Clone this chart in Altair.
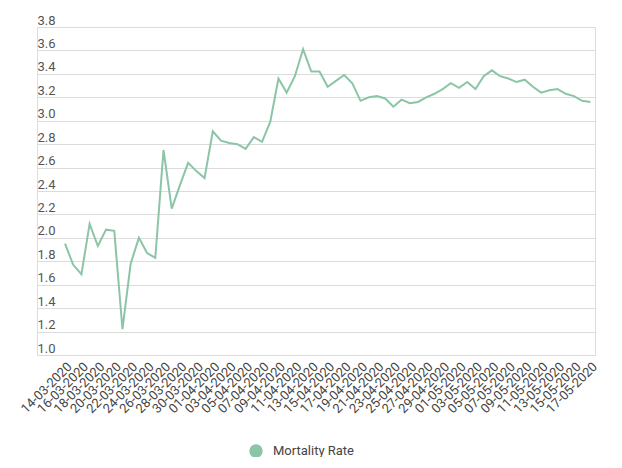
import altair as alt
import pandas as pd

# ---- data ----
start_date = "2020-03-14"
end_date = "2020-05-17"
series_name = "Mortality Rate"
mortality = [
    1.95, 1.77, 1.69, 2.12, 1.93, 2.07, 2.06, 1.22, 1.78, 2.00,
    1.87, 1.83, 2.75, 2.25, 2.45, 2.64, 2.57, 2.51, 2.91, 2.83,
    2.81, 2.80, 2.76, 2.86, 2.82, 2.99, 3.36, 3.24, 3.38, 3.61,
    3.42, 3.42, 3.29, 3.34, 3.39, 3.32, 3.17, 3.20, 3.21, 3.19,
    3.12, 3.18, 3.15, 3.16, 3.20, 3.23, 3.27, 3.32, 3.28, 3.33,
    3.27, 3.38, 3.43, 3.38, 3.36, 3.33, 3.35, 3.29, 3.24, 3.26,
    3.27, 3.23, 3.21, 3.17, 3.16,
]
y_ticks = [1.0, 1.2, 1.4, 1.6, 1.8, 2.0, 2.2, 2.4, 2.6, 2.8, 3.0, 3.2, 3.4, 3.6, 3.8]

dates = pd.date_range(start_date, end_date, freq="D")
df = pd.DataFrame({
    "date": dates.strftime("%Y-%m-%d"),
    "value": mortality,
    "series": series_name,
})

LINE = "#8bc5a6"
FONT = "Roboto"

tick_dates = [
    alt.DateTime(year=d.year, month=d.month, date=d.day, utc=True) for d in dates[::2]
]

chart = (
    alt.Chart(df)
    .mark_line(strokeWidth=2, color=LINE)
    .encode(
        x=alt.X(
            "date:T",
            scale=alt.Scale(
                type="utc",
                domain=[
                    alt.DateTime(year=2020, month=3, date=10, hours=14, minutes=9, utc=True),
                    alt.DateTime(year=2020, month=5, date=17, hours=13, minutes=26, utc=True),
                ],
            ),
            axis=alt.Axis(
                title=None,
                values=tick_dates,
                format="%d-%m-%Y",
                labelAngle=315,
                labelPadding=5,
                labelFontSize=13,
                labelColor="#444444",
                labelFont=FONT,
                ticks=False,
                tickSize=0,
                domain=False,
                grid=False,
                labelOverlap=False,
                labelFlush=False,
            ),
        ),
        y=alt.Y(
            "value:Q",
            scale=alt.Scale(domain=[1.0, 3.8], nice=False, zero=False),
            axis=alt.Axis(
                title=None,
                values=y_ticks,
                format=".1f",
                labelAlign="left",
                labelBaseline="alphabetic",
                labelOffset=-3,
                labelPadding=0,
                labelFontSize=13,
                labelColor="#555555",
                labelFont=FONT,
                ticks=False,
                tickSize=0,
                domain=False,
                grid=True,
                gridColor="#dcdcdc",
                gridWidth=1,
                labelOverlap=False,
                labelFlush=False,
            ),
        ),
        color=alt.Color(
            "series:N",
            scale=alt.Scale(range=[LINE]),
            legend=alt.Legend(
                title=None,
                orient="none",
                legendX=212,
                legendY=417,
                symbolType="circle",
                symbolSize=180,
                symbolFillColor=LINE,
                symbolStrokeColor=LINE,
                symbolStrokeWidth=0,
                labelFont=FONT,
                labelFontSize=13,
                labelColor="#444444",
                labelOffset=10,
            ),
        ),
    )
    .properties(
        width=558,
        height=328,
        autosize=alt.AutoSizeParams(type="none"),
        padding={"left": 29, "top": 19, "right": 19, "bottom": 102},
    )
    .configure_view(stroke=None)
    .configure(font=FONT)
)

chart.save("out.html", embed_options={"renderer": "svg", "actions": False})
